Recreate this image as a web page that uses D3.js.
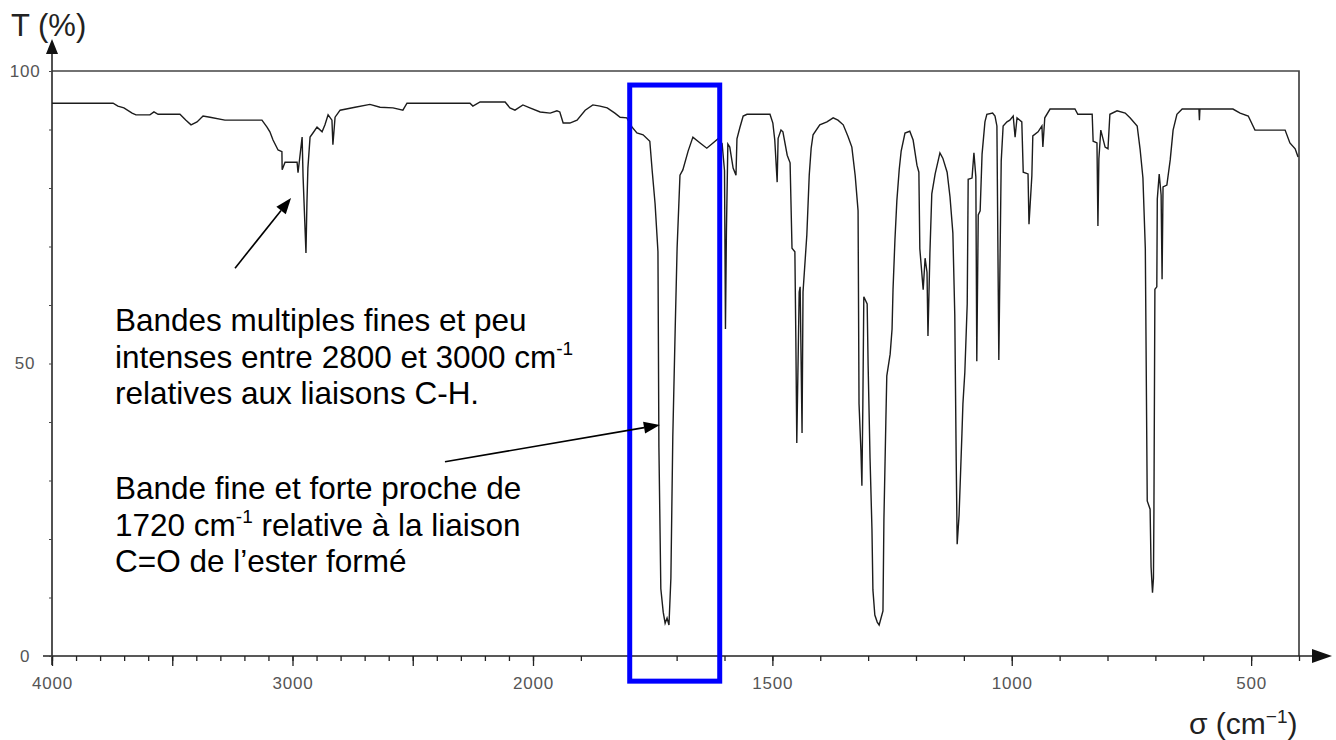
<!DOCTYPE html>
<html><head><meta charset="utf-8">
<script src="https://cdn.jsdelivr.net/npm/d3@7"></script>
<style>body{margin:0;background:#fff}svg{display:block}</style>
</head><body>
<svg id="c" width="1336" height="740"></svg>
<script>
// IR spectrum trace: wavenumber (cm-1) and transmittance (%)
const wavenumbers = [
4000,3746,3726,3701,3667,3651,3593,3576,3559,3468,3443,3422,3397,3372,3343,3281,3127,3106,3094,3081,3060,3044,3043,3031,2981,2977,2960,2956,2944,2940,2936,2927,2915,2898,2877,2865,2852,2836,2832,2823,2802,2740,2678,2636,2582,2541,2524,2262,2250,2220,2116,2096,2075,2042,2013,1985,1964,1950,1944,1937,1923,1908,1891,1875,1860,1845,1829,1818,1804,
1793,1783,1770,1756,1751,1745,1739,1737,1733,1728,1724,1720,1716,1712,1708,1703,1699,1693,1687,1676,1666,1651,1637,1624,1614,
1605,1600,1598,1596,1593,1589,1582,1576,1574,1568,1561,1553,1505,1499,1495,1490,1488,1482,1478,1469,1463,1459,1453,1451,1449,1444,1442,1438,1436,1428,1423,1419,1415,1401,1386,1373,1363,1352,
1342,1334,1327,1321,1319,1315,1313,1311,1309,1302,1300,1296,1292,1290,1286,1281,1277,1273,1269,1267,1263,1261,1254,1250,1248,1244,1240,1235,1231,1223,1213,1206,1198,1194,1192,1185,1181,1177,1175,1171,1167,1160,1150,1144,1135,1129,1123,1119,1116,1114,1110,1104,1102,1098,1093,1091,1083,1079,1075,1073,1070,1066,1062,1056,1052,1040,1035,1031,1027,1022,1018,1010,1004,997,993,989,979,976,966,964,958,956,945,937,935,931,920,868,862,832,830,822,820,818,814,805,799,795,780,763,753,738,732,726,721,717,711,709,706,704,703,701,697,696,692,688,686,684,676,669,663,655,644,609,608,607,538,523,506,492,475,429,419,408,402];
const transmittance = [
94.5,94.5,94.0,93.7,92.8,92.5,92.5,93.0,92.6,92.6,91.6,90.8,91.3,92.3,92.1,91.6,91.6,90.4,89.6,88.2,86.5,86.2,83.1,84.4,84.4,82.6,88.7,81.9,68.9,77.4,83.4,88.7,89.4,90.4,89.6,90.8,92.5,91.6,87.4,92.1,93.3,93.8,94.3,93.8,93.7,93.3,94.5,94.5,94.0,94.7,94.7,93.7,93.3,94.2,93.7,93.0,92.8,93.2,93.0,91.1,91.1,91.6,93.3,94.2,94.0,93.7,92.8,92.1,92.0,
90.4,89.4,89.1,88.0,82.9,77.3,69.1,35.7,11.5,7.5,5.6,6.5,5.3,13.3,37.4,55.9,69.7,82.2,83.1,86.3,88.7,87.7,86.8,87.7,88.4,
87.6,83.0,55.9,72.5,87.5,87.0,83.4,82.2,88.4,90.3,92.3,92.6,92.6,91.1,88.2,81.0,88.5,89.9,89.6,85.6,84.3,69.7,69.1,54.4,36.4,62.2,63.1,38.1,62.2,72.0,82.2,86.8,89.1,90.8,91.3,92.0,91.6,90.8,
88.8,87.0,82.1,76.1,43.1,35.0,29.1,43.1,61.4,60.2,49.7,33.8,21.7,11.3,7.0,5.8,5.3,6.5,7.7,23.4,40.0,47.9,51.6,55.9,62.6,71.1,77.8,83.2,86.3,89.4,89.7,88.2,83.9,82.7,69.6,62.6,68.0,65.6,54.7,68.7,79.0,82.4,86.0,85.1,82.7,78.5,72.3,58.3,33.3,19.1,24.1,38.1,43.1,48.5,60.2,81.5,81.7,86.0,81.9,50.4,75.4,76.1,85.8,91.3,92.6,92.8,92.3,90.6,50.6,84.6,90.6,91.3,91.6,92.3,88.7,92.0,91.3,82.7,82.4,73.8,82.1,88.9,89.6,90.6,87.0,92.0,93.5,93.5,92.6,92.6,88.0,87.7,73.5,85.0,89.9,87.0,86.7,92.6,93.2,92.8,92.0,90.6,86.7,81.7,69.6,26.5,25.1,15.2,10.8,13.3,25.1,62.7,63.1,78.1,82.4,78.8,64.4,80.2,80.5,84.8,89.9,92.6,93.5,93.5,91.6,93.5,93.5,92.8,92.3,89.9,89.9,89.9,87.7,86.7,85.3];

const xMajorTicks = [4000,3500,3000,2500,2000,1500,1000,500];
const xTickLabels = [4000,3000,2000,1500,1000,500];
const yTickLabels = [100,50,0];

const annot1 = ["Bandes multiples fines et peu", "intenses entre 2800 et 3000 cm", "relatives aux liaisons C-H."];
const annot2 = ["Bande fine et forte proche de", "1720 cm", "C=O de l\u2019ester formé"];

const svg = d3.select('#c');
const x = d3.scaleLinear().domain([4000, 2000, 400]).range([52, 533, 1299]);
const y = d3.scaleLinear().domain([0, 100]).range([656, 71]);
const FONT = "'Liberation Sans', Arial, Helvetica, sans-serif";

// frame (top + right)
svg.append('path')
  .attr('d', `M${x(4000)},${y(100)}H${x(400)}V${y(0)}`)
  .attr('fill','none').attr('stroke','#444').attr('stroke-width',1.7);

// x axis line + arrow
svg.append('line').attr('x1',43).attr('x2',1316).attr('y1',y(0)).attr('y2',y(0))
  .attr('stroke','#222').attr('stroke-width',1.7);
svg.append('path').attr('d',`M1312,${y(0)-7}L1332,${y(0)}L1312,${y(0)+7}Z`).attr('fill','#111');
// y axis line + arrow
svg.append('line').attr('x1',x(4000)).attr('x2',x(4000)).attr('y1',665).attr('y2',52)
  .attr('stroke','#333').attr('stroke-width',1.7);
svg.append('path').attr('d',`M${x(4000)-6},54L${x(4000)},39L${x(4000)+6},54Z`).attr('fill','#111');

// minor x ticks
const gMinor = svg.append('g').attr('transform',`translate(0,${y(0)})`)
  .call(d3.axisBottom(x).tickValues(d3.range(4000, 399, -100)).tickSize(5).tickFormat(''));
gMinor.select('.domain').remove();
gMinor.selectAll('line').attr('stroke','#222').attr('stroke-width',1.3);
// major x ticks with labels
const gMajor = svg.append('g').attr('transform',`translate(0,${y(0)})`)
  .call(d3.axisBottom(x).tickValues(xMajorTicks).tickSize(10).tickPadding(11)
    .tickFormat(d => xTickLabels.includes(d) ? d : ''));
gMajor.select('.domain').remove();
gMajor.selectAll('line').attr('stroke','#222').attr('stroke-width',1.3);
gMajor.selectAll('text').attr('font-family',FONT).attr('font-size',17).attr('letter-spacing',0.8).attr('fill','#555');

// y ticks
const gY = svg.append('g').attr('transform',`translate(${x(4000)},0)`)
  .call(d3.axisLeft(y).tickValues(d3.range(0,101,10)).tickSizeInner(3).tickSizeOuter(0).tickFormat(''));
gY.select('.domain').remove();
gY.selectAll('line').attr('stroke','#444');
// y labels (centred in the left margin)
const gYL = svg.append('g').attr('transform',`translate(${x(4000)},0)`)
  .call(d3.axisLeft(y).tickValues(yTickLabels).tickSize(0).tickPadding(27));
gYL.select('.domain').remove();
gYL.selectAll('text').attr('text-anchor','middle').attr('font-family',FONT).attr('font-size',17).attr('letter-spacing',0.8).attr('fill','#555');

// spectrum
const pts = wavenumbers.map((w,i) => [w, transmittance[i]]);
svg.append('path').datum(pts)
  .attr('d', d3.line().x(d => x(d[0])).y(d => y(d[1])))
  .attr('fill','none').attr('stroke','#1c1c1c').attr('stroke-width',1.4).attr('stroke-linejoin','miter');

// axis titles
svg.append('text').attr('x',11).attr('y',36).attr('font-family',FONT).attr('font-size',31).attr('fill','#222').text('T (%)');
const xt = svg.append('text').attr('x',1189).attr('y',734).attr('font-family',FONT).attr('font-size',30).attr('fill','#222');
xt.append('tspan').text('σ (cm');
xt.append('tspan').attr('dy',-11).attr('font-size',19).text('\u22121');
xt.append('tspan').attr('dy',11).text(')');

// blue highlight box
svg.append('rect')
  .attr('x', x(1798)).attr('y', y(97.6))
  .attr('width', x(1610) - x(1798)).attr('height', y(-4.3) - y(97.6))
  .attr('fill','none').attr('stroke','#0000ff').attr('stroke-width',5);

// annotations
function arrow(from, to) {
  const x1 = x(from[0]), y1 = y(from[1]), x2 = x(to[0]), y2 = y(to[1]);
  const a = Math.atan2(y2-y1, x2-x1), L = 16, W = 6;
  const bx = x2 - L*Math.cos(a), by = y2 - L*Math.sin(a);
  svg.append('line').attr('x1',x1).attr('y1',y1).attr('x2',bx).attr('y2',by)
    .attr('stroke','#000').attr('stroke-width',1.6);
  svg.append('path').attr('d',`M${x2},${y2}L${bx - W*Math.sin(a)},${by + W*Math.cos(a)}L${bx + W*Math.sin(a)},${by - W*Math.cos(a)}Z`).attr('fill','#000');
}
arrow([3239, 66.3], [3006, 78.3]);
arrow([2366, 33.2], [1735, 39.5]);

const txtX = x(3738);
const base1 = [55.6, 49.3, 43.1];
const base2 = [26.8, 20.5, 14.3];
function textLine(str, T, sup, rest) {
  const t = svg.append('text').attr('x', txtX).attr('y', y(T))
    .attr('font-family', FONT).attr('font-size', 31.5).attr('fill', '#000');
  t.append('tspan').text(str);
  if (sup) {
    t.append('tspan').attr('dy', -13).attr('font-size', 19).text(sup);
    if (rest) t.append('tspan').attr('dy', 13).text(rest);
  }
}
textLine(annot1[0], base1[0]);
textLine(annot1[1], base1[1], '-1');
textLine(annot1[2], base1[2]);
textLine(annot2[0], base2[0]);
textLine(annot2[1], base2[1], '-1', ' relative à la liaison');
textLine(annot2[2], base2[2]);
</script>
</body></html>
